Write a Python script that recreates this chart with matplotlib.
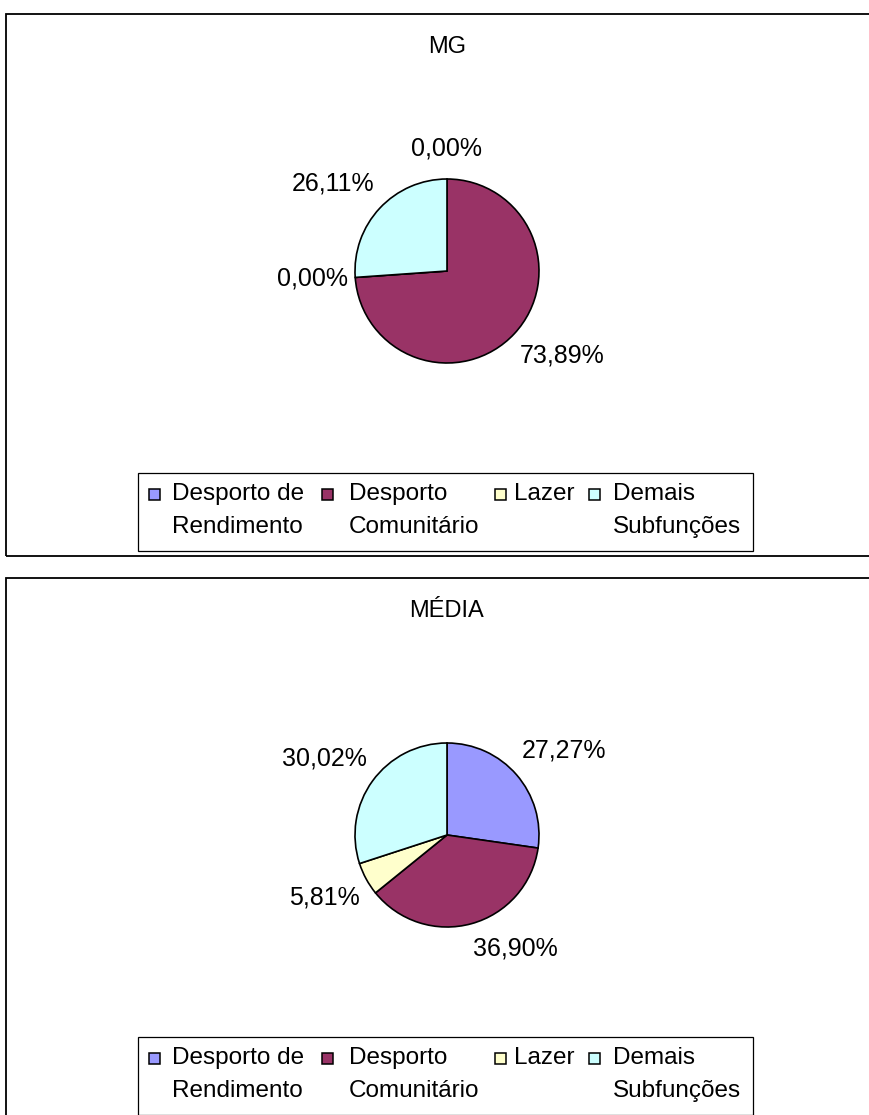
import numpy as np
import matplotlib.pyplot as plt
from matplotlib.patches import Rectangle

# spending shares by sub-function (%)
categories = ["Desporto de Rendimento", "Desporto Comunitário", "Lazer", "Demais Subfunções"]
panel_titles = ["MG", "MÉDIA"]
mg_shares = [0.00, 73.89, 0.00, 26.11]
media_shares = [27.27, 36.90, 5.81, 30.02]
colors = ["#9999FF", "#993366", "#FFFFCC", "#CCFFFF"]

W, H = 870, 1115
R = 92  # pie radius in px

plt.rcParams['font.family'] = ['Liberation Sans', 'DejaVu Sans']

fig = plt.figure(figsize=(W / 100, H / 100), dpi=100)


def fx(x):
    return x / W


def fy(y):
    return 1 - y / H


def fmt(v):
    return f"{v:.2f}%".replace(".", ",")


def draw_panel(top, height, title, shares):
    fig.patches.append(Rectangle((fx(6), fy(top + height)), (W + 20) / W, height / H,
                                 transform=fig.transFigure, fill=False,
                                 edgecolor="black", lw=1.3))
    fig.text(fx(447), fy(top + 39), title, ha="center", va="baseline", fontsize=17)

    cx, cy = 447, top + 257
    half = 200
    ax = fig.add_axes([fx(cx - half), fy(cy + half), 2 * half / W, 2 * half / H])
    ax.pie(shares, colors=colors, startangle=90, counterclock=False, radius=1,
           wedgeprops=dict(edgecolor="black", linewidth=1.2))
    ax.set_xlim(-half / R, half / R)
    ax.set_ylim(-half / R, half / R)
    ax.axis("off")

    # value labels just outside each wedge
    total = sum(shares)
    cum = np.cumsum([0] + list(shares))
    for i, v in enumerate(shares):
        mid = np.deg2rad(90 - 360 * (cum[i] + v / 2) / total)
        c, s = np.cos(mid), np.sin(mid)
        ha = "left" if c > 0.2 else ("right" if c < -0.2 else "center")
        va = "bottom" if s > 0.2 else ("top" if s < -0.2 else "center")
        ry = 1.20 if s > 0 else 1.15
        ax.text(1.08 * c, ry * s, fmt(v), ha=ha, va=va, fontsize=18, clip_on=False)

    # legend
    ly = top + 459
    fig.patches.append(Rectangle((fx(138), fy(ly + 78)), 615 / W, 78 / H,
                                 transform=fig.transFigure, fill=False,
                                 edgecolor="black", lw=0.9))
    sq_x = [149, 322, 495, 589]
    txt_x = [172, 349, 514, 613]
    for i, label in enumerate(categories):
        fig.patches.append(Rectangle((fx(sq_x[i]), fy(ly + 27)), 11 / W, 11 / H,
                                     transform=fig.transFigure, facecolor=colors[i],
                                     edgecolor="black", lw=1.1))
        lines = label.rsplit(" ", 1) if label.count(" ") else [label]
        for j, line in enumerate(lines):
            fig.text(fx(txt_x[i]), fy(ly + 21 + 33 * j), line, ha="left", va="center",
                     fontsize=17.5)


draw_panel(14, 542, panel_titles[0], mg_shares)
draw_panel(578, 600, panel_titles[1], media_shares)

fig.savefig("out.png", dpi=100)
